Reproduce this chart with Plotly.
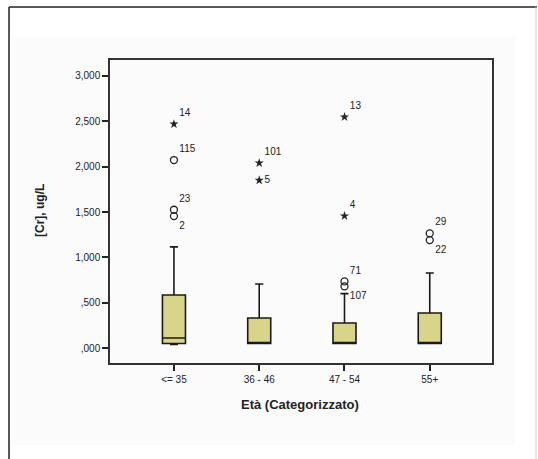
import plotly.graph_objects as go

# ---- data ----
categories = ["<= 35", "36 - 46", "47 - 54", "55+"]
q1 = [50, 50, 50, 50]
median = [110, 55, 55, 55]
q3 = [585, 331, 276, 386]
lower_fence = [40, 50, 50, 50]
upper_fence = [1115, 706, 600, 827]

# outliers: (category index, value, case label, label position)
circle_x = [0, 0, 0, 2, 2, 3, 3]
circle_y = [2073, 1525, 1455, 735, 680, 1265, 1190]
circle_lbl = ["115", "23", "2", "71", "107", "29", "22"]
circle_pos = ["top right", "top right", "bottom right", "top right", "bottom right", "top right", "bottom right"]

star_x = [0, 1, 1, 2, 2]
star_y = [2470, 2040, 1850, 2548, 1456]
star_lbl = ["14", "101", "5", "13", "4"]
star_pos = ["top right", "top right", "middle right", "top right", "top right"]

yticks = [0, 500, 1000, 1500, 2000, 2500, 3000]
yticktext = [",000", ",500", "1,000", "1,500", "2,000", "2,500", "3,000"]

fig = go.Figure()

fig.add_trace(go.Box(
    x=list(range(len(categories))),
    q1=q1, median=median, q3=q3,
    lowerfence=lower_fence, upperfence=upper_fence,
    fillcolor="#D8D48A",
    line=dict(color="#1a1a1a", width=1.6),
    width=0.27, whiskerwidth=0.35,
    boxpoints=False, hoverinfo="skip", showlegend=False,
))

fig.add_trace(go.Scatter(
    x=circle_x, y=circle_y, mode="markers+text",
    marker=dict(symbol="circle-open", size=7, color="#222", line=dict(width=1.3)),
    text=circle_lbl, textposition=circle_pos,
    textfont=dict(family="Arial, Liberation Sans", size=10, color="#222"),
    showlegend=False, cliponaxis=False,
))

fig.add_trace(go.Scatter(
    x=star_x, y=star_y, mode="markers+text",
    marker=dict(symbol="star", size=7, color="#222"),
    text=star_lbl, textposition=star_pos,
    textfont=dict(family="Arial, Liberation Sans", size=10, color="#222"),
    showlegend=False, cliponaxis=False,
))

W, H = 538, 459
L, R, T, B = 110, 46, 60, 96
pw, ph = W - L - R, H - T - B

def px(x):
    return (x - L) / pw

def py(y):
    return 1 - (y - T) / ph

fig.update_layout(
    width=W, height=H,
    margin=dict(l=L, r=R, t=T, b=B),
    paper_bgcolor="white",
    plot_bgcolor="#EDEDEB",
    font=dict(family="Arial, Liberation Sans", color="#222"),
    xaxis=dict(
        range=[-0.75, 3.73],
        tickmode="array", tickvals=list(range(len(categories))), ticktext=categories,
        ticks="outside", ticklen=6, tickcolor="#222", tickwidth=1.5,
        showline=True, mirror=True, linecolor="#333", linewidth=1.5,
        showgrid=False, zeroline=False,
        tickfont=dict(size=10, color="#222"),
    ),
    yaxis=dict(
        range=[-165, 3176],
        tickmode="array", tickvals=yticks, ticktext=yticktext,
        ticks="outside", ticklen=6, tickcolor="#222", tickwidth=1.5,
        showline=True, mirror=True, linecolor="#333", linewidth=1.5,
        showgrid=False, zeroline=False,
        tickfont=dict(size=10, color="#222"),
    ),
    shapes=[
        dict(type="rect", xref="paper", yref="paper",
             x0=px(14), x1=px(515), y0=py(445), y1=py(37),
             fillcolor="#FBFBFB", line=dict(width=0), layer="below"),
        dict(type="line", xref="paper", yref="paper",
             x0=px(9), x1=px(537), y0=py(7), y1=py(7),
             line=dict(color="#222", width=1.5)),
        dict(type="line", xref="paper", yref="paper",
             x0=px(9), x1=px(9), y0=py(7), y1=py(470),
             line=dict(color="#222", width=1.5)),
        dict(type="line", xref="paper", yref="paper",
             x0=px(536), x1=px(536), y0=py(7), y1=py(470),
             line=dict(color="#ccc", width=1)),
    ],
    annotations=[
        dict(text="<b>[Cr], ug/L</b>", xref="paper", yref="paper",
             x=px(40), y=py(211), textangle=-90, showarrow=False,
             font=dict(size=12, color="#222"), xanchor="center", yanchor="middle"),
        dict(text="<b>Età (Categorizzato)</b>", xref="paper", yref="paper",
             x=px(300), y=py(405), showarrow=False,
             font=dict(size=13, color="#222"), xanchor="center", yanchor="middle"),
    ],
)

fig.write_html("out.html")
